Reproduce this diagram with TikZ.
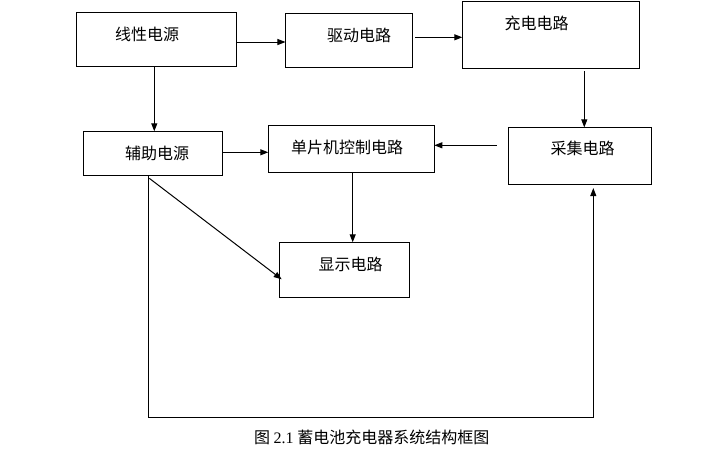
\documentclass[tikz,border=0pt]{standalone}
\usepackage{fontspec}
\newfontfamily\cjk{Noto Sans CJK SC}
\newfontfamily\lserif{Liberation Serif}
\usetikzlibrary{calc}
\usetikzlibrary{arrows.meta}

\begin{document}
\begin{tikzpicture}[x=.75pt,y=-.75pt,
  blk/.style={draw,line width=.75pt,inner sep=0pt,outer sep=0pt},
  txt/.style={font=\cjk\fontsize{12}{14}\selectfont,inner sep=0pt},
  arr/.style={line width=.75pt,-{Triangle[length=6pt,width=4.5pt]}}]
\useasboundingbox (0,0) rectangle (719,451);
% blocks
\node[blk,minimum width=120pt,minimum height=40.5pt] (lin) at (156.5,39) {};
\node[blk,minimum width=94.9pt,minimum height=40.5pt] (qd) at (348.75,40.3) {};
\node[blk,minimum width=132.75pt,minimum height=50.25pt] (cd) at (550.8,34.8) {};
\node[blk,minimum width=107.25pt,minimum height=42.5pt] (cj) at (579.8,155.7) {};
\node[blk,minimum width=104.25pt,minimum height=33pt] (fz) at (152.8,153.3) {};
\node[blk,minimum width=124.5pt,minimum height=35.25pt] (dpj) at (351.3,148.8) {};
\node[blk,minimum width=97.5pt,minimum height=41.25pt] (xs) at (344.3,269.8) {};
\node[txt] (linT) at (147,34) {线性电源};
\node[txt] (qdT) at (359,35) {驱动电路};
\node[txt] (cdT) at (536.7,23) {充电电路};
\node[txt] (cjT) at (582.7,148) {采集电路};
\node[txt] (fzT) at (157,153) {辅助电源};
\node[txt] (dpjT) at (347,147) {单片机控制电路};
\node[txt] (xsT) at (350.7,264.3) {显示电路};
% connectors
\coordinate (a1) at ($(lin.east)+(0,3)$);
\draw[arr] (a1) -- (a1 -| qd.west);
\coordinate (a2) at ($(qd.east)+(3,-3)$);
\draw[arr] (a2) -- (a2 -| cd.west);
\coordinate (a3) at ($(cd.south)+(33.5,2.7)$);
\draw[arr] (a3) -- (a3 |- cj.north);
\coordinate (a4) at ($(cj.west)+(-11.6,-10.4)$);
\draw[arr] (a4) -- (a4 -| dpj.east);
\coordinate (a5) at ($(lin.south)+(-2.2,0)$);
\draw[arr] (a5) -- (a5 |- fz.north);
\coordinate (a6) at ($(fz.east)+(0,-1)$);
\draw[arr] (a6) -- (a6 -| dpj.west);
\coordinate (a7) at ($(dpj.south)+(1.4,0)$);
\draw[arr] (a7) -- (a7 |- xs.north);
\coordinate (a8) at ($(fz.south)+(-3.5,3)$);
\draw[arr] (a8) -- ($(xs.west)+(2.4,9.5)$);
\coordinate (a9) at ($(fz.south)+(-4.5,0)$);
\coordinate (a10) at ($(cj.south)+(13.5,4)$);
\draw[arr] (a9) -- (a9 |- 0,417) -| (a10);
% caption
\node[txt] (cap) at (371.7,437.3) {图 {\lserif 2.1} 蓄电池充电器系统结构框图};
\end{tikzpicture}
\end{document}
